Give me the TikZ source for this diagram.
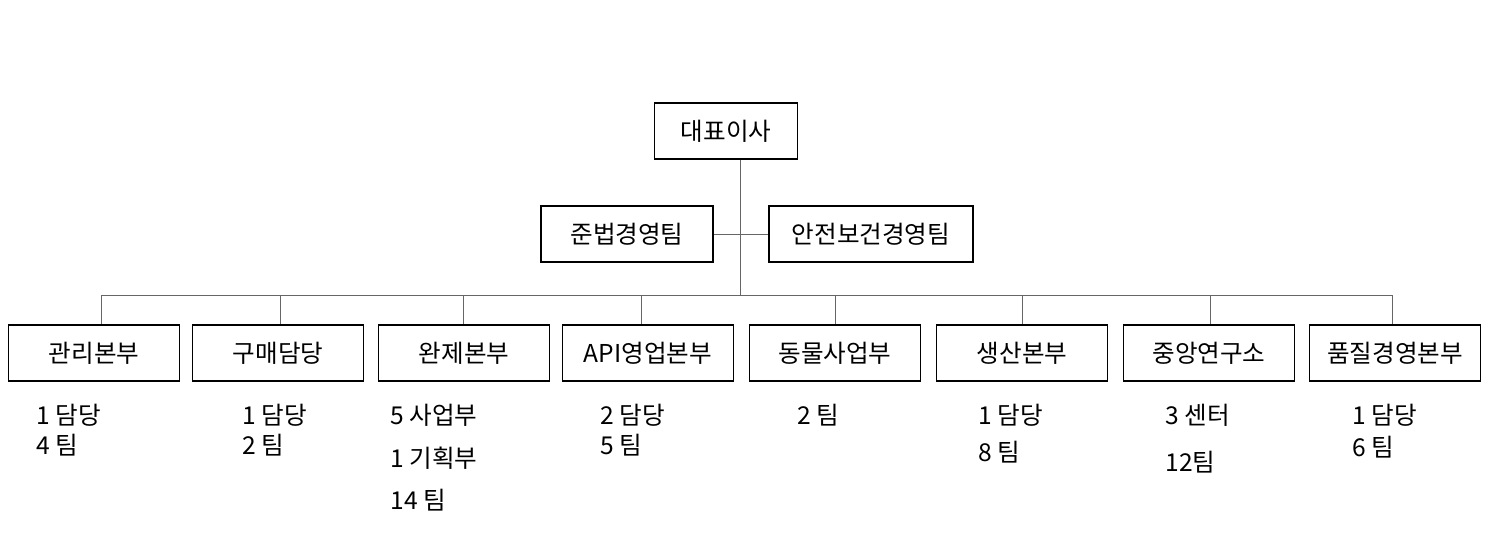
\documentclass[tikz,border=0pt]{standalone}
\usepackage{fontspec}
\setmainfont{Noto Sans CJK KR}
\usetikzlibrary{positioning}

\begin{document}
\begin{tikzpicture}[x=0.02cm, y=-0.02cm, font=\fontsize{14}{17}\selectfont,
	unit/.style={draw, thick, rectangle, minimum height=1.12cm, inner sep=2pt},
	note/.style={anchor=west, inner sep=0pt},
	link/.style={draw=black!60}]

	\useasboundingbox (0,0) rectangle (1508,539);

	% top of the chart
	\node[unit, minimum width=2.86cm] (ceo) at (726,131) {대표이사};
	\node[unit, minimum width=3.44cm] (comp) at (627,234) {준법경영팀};
	\node[unit, minimum width=4.08cm] (safe) at (871,234) {안전보건경영팀};
	\coordinate (trunk) at (740,295);
	\draw[link] (ceo.south -| trunk) -- (trunk);
	\draw[link] (comp.east) -- (safe.west);

	% divisions
	\foreach \x/\d/\name/\txt in {94/101/d1/관리본부, 278/280/d2/구매담당, 464/463/d3/완제본부,
		648/641/d4/API영업본부, 835/835/d5/동물사업부, 1022/1022/d6/생산본부,
		1209/1210/d7/중앙연구소, 1395/1392/d8/품질경영본부}
	{
		\node[unit, minimum width=3.42cm] (\name) at (\x,353) {\txt};
		\coordinate (t\name) at (\d,295);
		\draw[link] (t\name) -- (t\name |- \name.north);
	}
	\draw[link] (td1) -- (td8);

	% counts
	\node[note] (n1a) at (36,415) {1 담당};
	\node[note] (n1b) at (36,445) {4 팀};
	\node[note] (n2a) at (242,415) {1 담당};
	\node[note] (n2b) at (242,445) {2 팀};
	\node[note] (n3a) at (390,415) {5 사업부};
	\node[note] (n3b) at (390,458) {1 기획부};
	\node[note] (n3c) at (390,500) {14 팀};
	\node[note] (n4a) at (600,415) {2 담당};
	\node[note] (n4b) at (600,445) {5 팀};
	\node[note] (n5a) at (797,415) {2 팀};
	\node[note] (n6a) at (978,415) {1 담당};
	\node[note] (n6b) at (978,452) {8 팀};
	\node[note] (n7a) at (1165,415) {3 센터};
	\node[note] (n7b) at (1165,462) {12팀};
	\node[note] (n8a) at (1352,415) {1 담당};
	\node[note] (n8b) at (1352,447) {6 팀};

\end{tikzpicture}
\end{document}
